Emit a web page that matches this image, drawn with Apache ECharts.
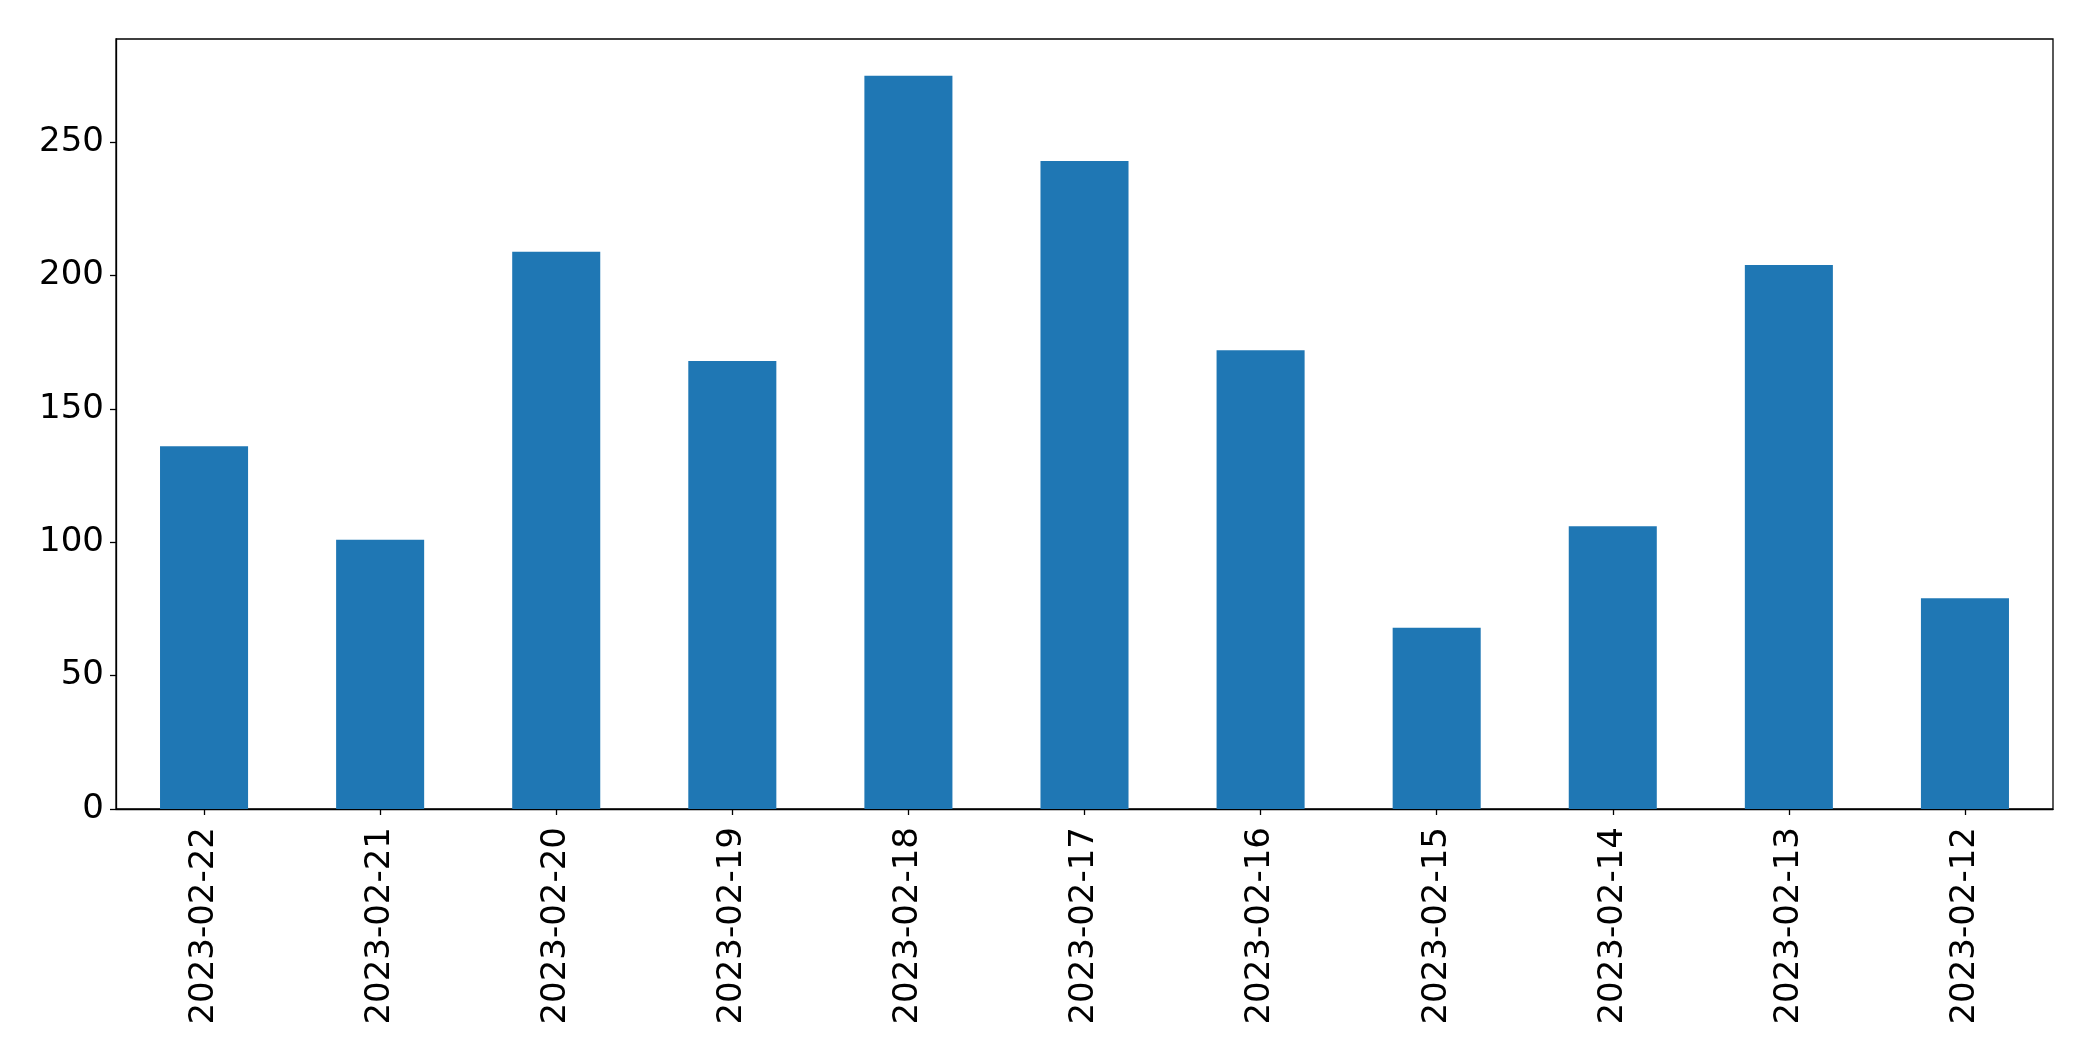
<!DOCTYPE html>
<html>
<head>
<meta charset="utf-8">
<script src="https://cdn.jsdelivr.net/npm/echarts@6/dist/echarts.min.js"></script>
<style>html,body{margin:0;padding:0;background:#fff;}#c{width:2093px;height:1061px;}</style>
</head>
<body>
<div id="c"></div>
<script>
const categories = ["2023-02-22","2023-02-21","2023-02-20","2023-02-19","2023-02-18","2023-02-17","2023-02-16","2023-02-15","2023-02-14","2023-02-13","2023-02-12"];
const values = [136, 101, 209, 168, 275, 243, 172, 68, 106, 204, 79];
const yTicks = [0, 50, 100, 150, 200, 250];

const chart = echarts.init(document.getElementById('c'), null, {renderer: 'canvas'});
const font = 'DejaVu Sans';
chart.setOption({
  animation: false,
  backgroundColor: '#fff',
  grid: {left: 116, right: 40, top: 39, bottom: 252, show: true, borderColor: '#000', borderWidth: 1.3, backgroundColor: 'transparent'},
  xAxis: {
    type: 'category',
    data: categories,
    axisLine: {show: true, lineStyle: {color: '#000', width: 1.3}},
    axisTick: {show: true, alignWithLabel: true, length: 6, lineStyle: {color: '#000', width: 1.3}},
    axisLabel: {rotate: 90, fontFamily: font, fontSize: 34, color: '#000', margin: 18, interval: 0}
  },
  yAxis: {
    type: 'value',
    min: 0,
    max: 288.75,
    interval: 50,
    splitLine: {show: false},
    axisLine: {show: true, lineStyle: {color: '#000', width: 1.3}},
    axisTick: {show: true, length: 6, lineStyle: {color: '#000', width: 1.3}},
    axisLabel: {fontFamily: font, fontSize: 34, color: '#000', margin: 12, showMaxLabel: false,
      formatter: v => yTicks.includes(v) ? String(v) : ''}
  },
  series: [{
    type: 'bar',
    data: values,
    barWidth: '50%',
    itemStyle: {color: '#1f77b4'}
  }]
});
</script>
</body>
</html>
